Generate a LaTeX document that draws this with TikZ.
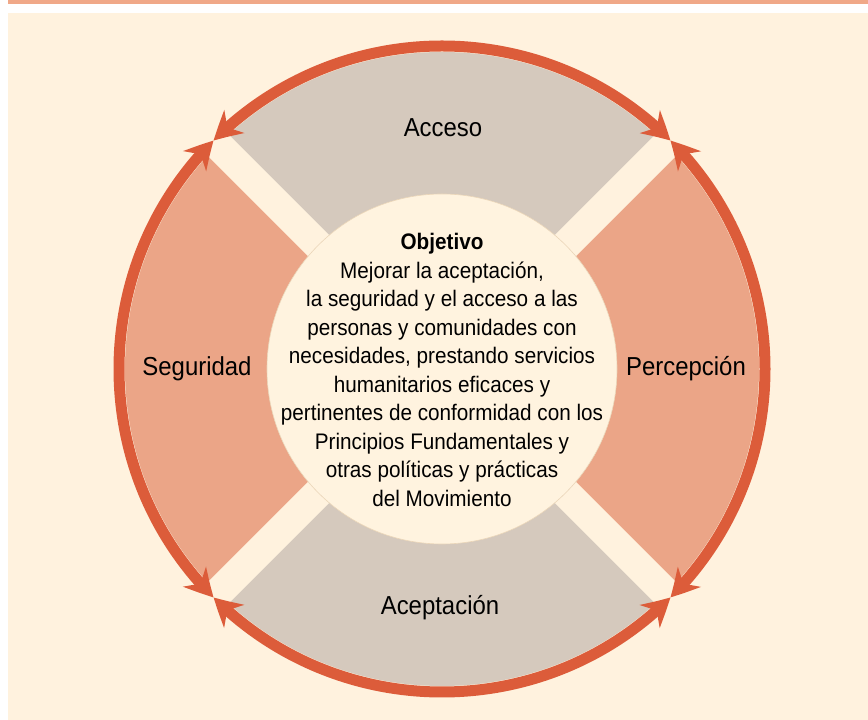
\documentclass[tikz,border=0pt]{standalone}
\usepackage{fontspec}
\setmainfont{Liberation Sans}[FakeStretch=0.92]
\usetikzlibrary{arrows.meta,bending}
\definecolor{bgcream}{HTML}{FFF2DE}
\definecolor{corecream}{HTML}{FFF3DF}
\definecolor{coreline}{HTML}{EAD5B8}
\definecolor{ringorange}{HTML}{DC5C3A}
\definecolor{sectgray}{HTML}{D5C9BD}
\definecolor{sectsalmon}{HTML}{EBA587}
\definecolor{topline}{HTML}{F0A888}
\tikzset{
  ringarrow/.style={draw=ringorange, line width=11pt,
    {Stealth[length=28pt,width=30pt,inset=9pt,bend]}-{Stealth[length=28pt,width=30pt,inset=9pt,bend]}},
  sectlabel/.style={font=\fontsize{26}{30}\selectfont, text=black, inner sep=0pt},
  corebox/.style={circle, fill=corecream, draw=coreline, line width=0.6pt,
    minimum size=350pt, inner sep=0pt},
  coretext/.style={align=center, inner sep=0pt, text=black,
    font=\fontsize{22.5}{28.5}\selectfont}
}
\begin{document}
\begin{tikzpicture}[x=1pt,y=1pt]
\useasboundingbox (0,0) rectangle (868,720);
\fill[white] (0,0) rectangle (868,720);
\fill[bgcream] (8,0) rectangle (868,707);
\fill[topline] (8,716) rectangle (868,720);
\begin{scope}[shift={(442,351)}]
  % sectors
  \fill[sectgray] (45:317) arc[start angle=45,end angle=135,radius=317] -- (135:175) arc[start angle=135,end angle=45,radius=175] -- cycle;
  \fill[sectgray] (225:317) arc[start angle=225,end angle=315,radius=317] -- (315:175) arc[start angle=315,end angle=225,radius=175] -- cycle;
  \fill[sectsalmon] (135:317) arc[start angle=135,end angle=225,radius=317] -- (225:175) arc[start angle=225,end angle=135,radius=175] -- cycle;
  \fill[sectsalmon] (-45:317) arc[start angle=-45,end angle=45,radius=317] -- (45:175) arc[start angle=45,end angle=-45,radius=175] -- cycle;
  % diagonal gaps
  \fill[bgcream, rotate=45] (-318,-15) rectangle (318,15);
  \fill[bgcream, rotate=-45] (-318,-15) rectangle (318,15);
  % ring arrows
  \draw[ringarrow] (45:323) arc[start angle=45,end angle=135,radius=323];
  \draw[ringarrow] (135:323) arc[start angle=135,end angle=225,radius=323];
  \draw[ringarrow] (225:323) arc[start angle=225,end angle=315,radius=323];
  \draw[ringarrow] (315:323) arc[start angle=315,end angle=405,radius=323];
  % core
  \node[corebox] (core) at (0,0) {};
  \node[coretext] (objtext) at (0,-1) {\textbf{Objetivo}\\Mejorar la aceptación,\\la seguridad y el acceso a las\\personas y comunidades con\\necesidades, prestando servicios\\humanitarios eficaces y\\pertinentes de conformidad con los\\Principios Fundamentales y\\otras políticas y prácticas\\del Movimiento};
  % labels
  \node[sectlabel] (acceso) at (1,241) {Acceso};
  \node[sectlabel] (aceptacion) at (-2,-239) {Aceptación};
  \node[sectlabel] (seguridad) at (-245,0) {Seguridad};
  \node[sectlabel] (percepcion) at (244,0) {Percepción};
\end{scope}
\end{tikzpicture}
\end{document}
